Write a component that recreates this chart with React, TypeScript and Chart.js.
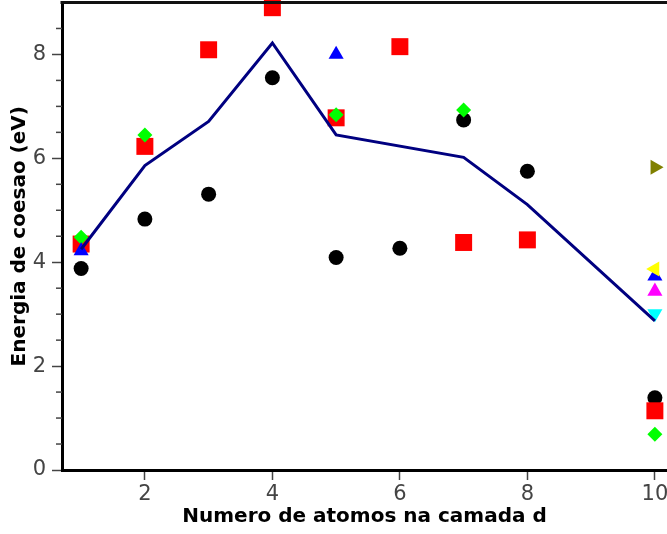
import React, { useEffect, useRef } from "react";
import { Chart, registerables } from "chart.js";
Chart.register(...registerables);

const xTicks = [2, 4, 6, 8, 10];
const yTicks = [0, 2, 4, 6, 8];
const yMinorTicks = [0.5, 1, 1.5, 2.5, 3, 3.5, 4.5, 5, 5.5, 6.5, 7, 7.5, 8.5];

const lineX = [1, 2, 3, 4, 5, 7, 8, 10];
const lineY = [4.25, 5.86, 6.71, 8.22, 6.45, 6.02, 5.11, 2.87];

const circleX = [1, 2, 3, 4, 5, 6, 7, 8, 10];
const circleY = [3.88, 4.83, 5.31, 7.55, 4.09, 4.27, 6.74, 5.75, 1.39];

const squareX = [1, 2, 3, 4, 5, 6, 7, 8, 10];
const squareY = [4.35, 6.23, 8.09, 8.9, 6.78, 8.15, 4.38, 4.43, 1.14];

const diamondX = [1, 2, 5, 7, 10];
const diamondY = [4.48, 6.45, 6.84, 6.93, 0.69];

const blueX = [1, 5, 10];
const blueY = [4.22, 8.0, 3.73];

const yellowX = [10];
const yellowY = [3.87];

const magentaX = [10];
const magentaY = [3.44];

const cyanX = [10];
const cyanY = [3.01];

const oliveX = [10];
const oliveY = [5.83];

const pts = (xs: number[], ys: number[]) => xs.map((x, i) => ({ x, y: ys[i] }));

const marker = (label: string, xs: number[], ys: number[], color: string, style: string, radius: number, rotation = 0) => ({
  label,
  data: pts(xs, ys),
  pointStyle: style,
  pointRadius: radius,
  pointHoverRadius: radius,
  pointRotation: rotation,
  pointBackgroundColor: color,
  pointBorderWidth: 0,
  backgroundColor: color,
  borderColor: color,
  showLine: false,
  clip: false as any,
});

export default function App() {
  const ref = useRef<HTMLCanvasElement | null>(null);
  useEffect(() => {
    if (!ref.current) return;
    const frame = {
      id: "frame",
      afterDraw(chart: any) {
        const { ctx, chartArea } = chart;
        const ys = chart.scales.y;
        ctx.save();
        ctx.strokeStyle = "#444";
        ctx.lineWidth = 1.5;
        yMinorTicks.forEach((v) => {
          const py = ys.getPixelForValue(v);
          ctx.beginPath();
          ctx.moveTo(chartArea.left - 6, py);
          ctx.lineTo(chartArea.left, py);
          ctx.stroke();
        });
        ctx.strokeStyle = "#111";
        ctx.lineWidth = 3;
        ctx.beginPath();
        ctx.moveTo(chartArea.left - 1.5, chartArea.top);
        ctx.lineTo(chart.width, chartArea.top);
        ctx.stroke();
        ctx.restore();
      },
    };
    const font = { family: "DejaVu Sans", size: 21 };
    const titleFont = { family: "DejaVu Sans", size: 20, weight: "bold" };
    const chart = new Chart(ref.current, {
      type: "scatter",
      data: {
        datasets: [
          {
            label: "media",
            data: pts(lineX, lineY),
            showLine: true,
            borderColor: "#000080",
            borderWidth: 3,
            pointRadius: 0,
            fill: false,
          } as any,
          marker("olive", oliveX, oliveY, "#808000", "triangle", 8.7, 90),
          marker("yellow", yellowX, yellowY, "#ffff00", "triangle", 8.7, 270),
          marker("cyan", cyanX, cyanY, "#00ffff", "triangle", 8.7, 180),
          marker("magenta", magentaX, magentaY, "#ff00ff", "triangle", 8.7),
          marker("blue", blueX, blueY, "#0000ff", "triangle", 8.7),
          marker("green", diamondX, diamondY, "#00ff00", "rectRot", 7.5),
          marker("red", squareX, squareY, "#ff0000", "rect", 12),
          marker("black", circleX, circleY, "#000000", "circle", 7.5),
        ],
      },
      options: {
        animation: false,
        responsive: false,
        maintainAspectRatio: false,
        layout: { autoPadding: false, padding: { top: 2.5, left: 0, right: 0, bottom: 0 } },
        plugins: { legend: { display: false }, tooltip: { enabled: false } },
        scales: {
          x: {
            type: "linear",
            min: 0.7,
            max: 10.19,
            afterBuildTicks: (s: any) => {
              s.ticks = xTicks.map((v) => ({ value: v }));
            },
            afterFit: (s: any) => {
              s.height = 64;
              s.paddingLeft = 0;
              s.paddingRight = 0;
            },
            grid: { display: true, drawOnChartArea: false, tickLength: 10, tickColor: "#444", tickWidth: 1.5 },
            border: { display: true, color: "#000", width: 3 },
            ticks: { color: "#444", font, padding: 2, maxRotation: 0, autoSkip: false },
            title: {
              display: true,
              text: "Numero de atomos na camada d",
              color: "#000",
              font: titleFont,
              padding: { top: 0, bottom: 5 },
            },
          },
          y: {
            type: "linear",
            min: 0,
            max: 9,
            afterBuildTicks: (s: any) => {
              s.ticks = yTicks.map((v) => ({ value: v }));
            },
            afterFit: (s: any) => {
              s.width = 62;
              s.paddingTop = 0;
              s.paddingBottom = 0;
            },
            grid: { display: true, drawOnChartArea: false, tickLength: 10, tickColor: "#444", tickWidth: 1.5 },
            border: { display: true, color: "#000", width: 3 },
            ticks: { color: "#444", font, padding: 6, autoSkip: false },
            title: {
              display: true,
              text: "Energia de coesao (eV)",
              color: "#000",
              font: titleFont,
              padding: { top: 7.5, bottom: 0 },
            },
          },
        },
      } as any,
      plugins: [frame],
    });
    return () => chart.destroy();
  }, []);
  return (
    <div style={{ position: "fixed", left: 0, top: 0, width: 667, height: 534, background: "#fff" }}>
      <canvas ref={ref} width={667} height={534} style={{ width: 667, height: 534 }} />
    </div>
  );
}
